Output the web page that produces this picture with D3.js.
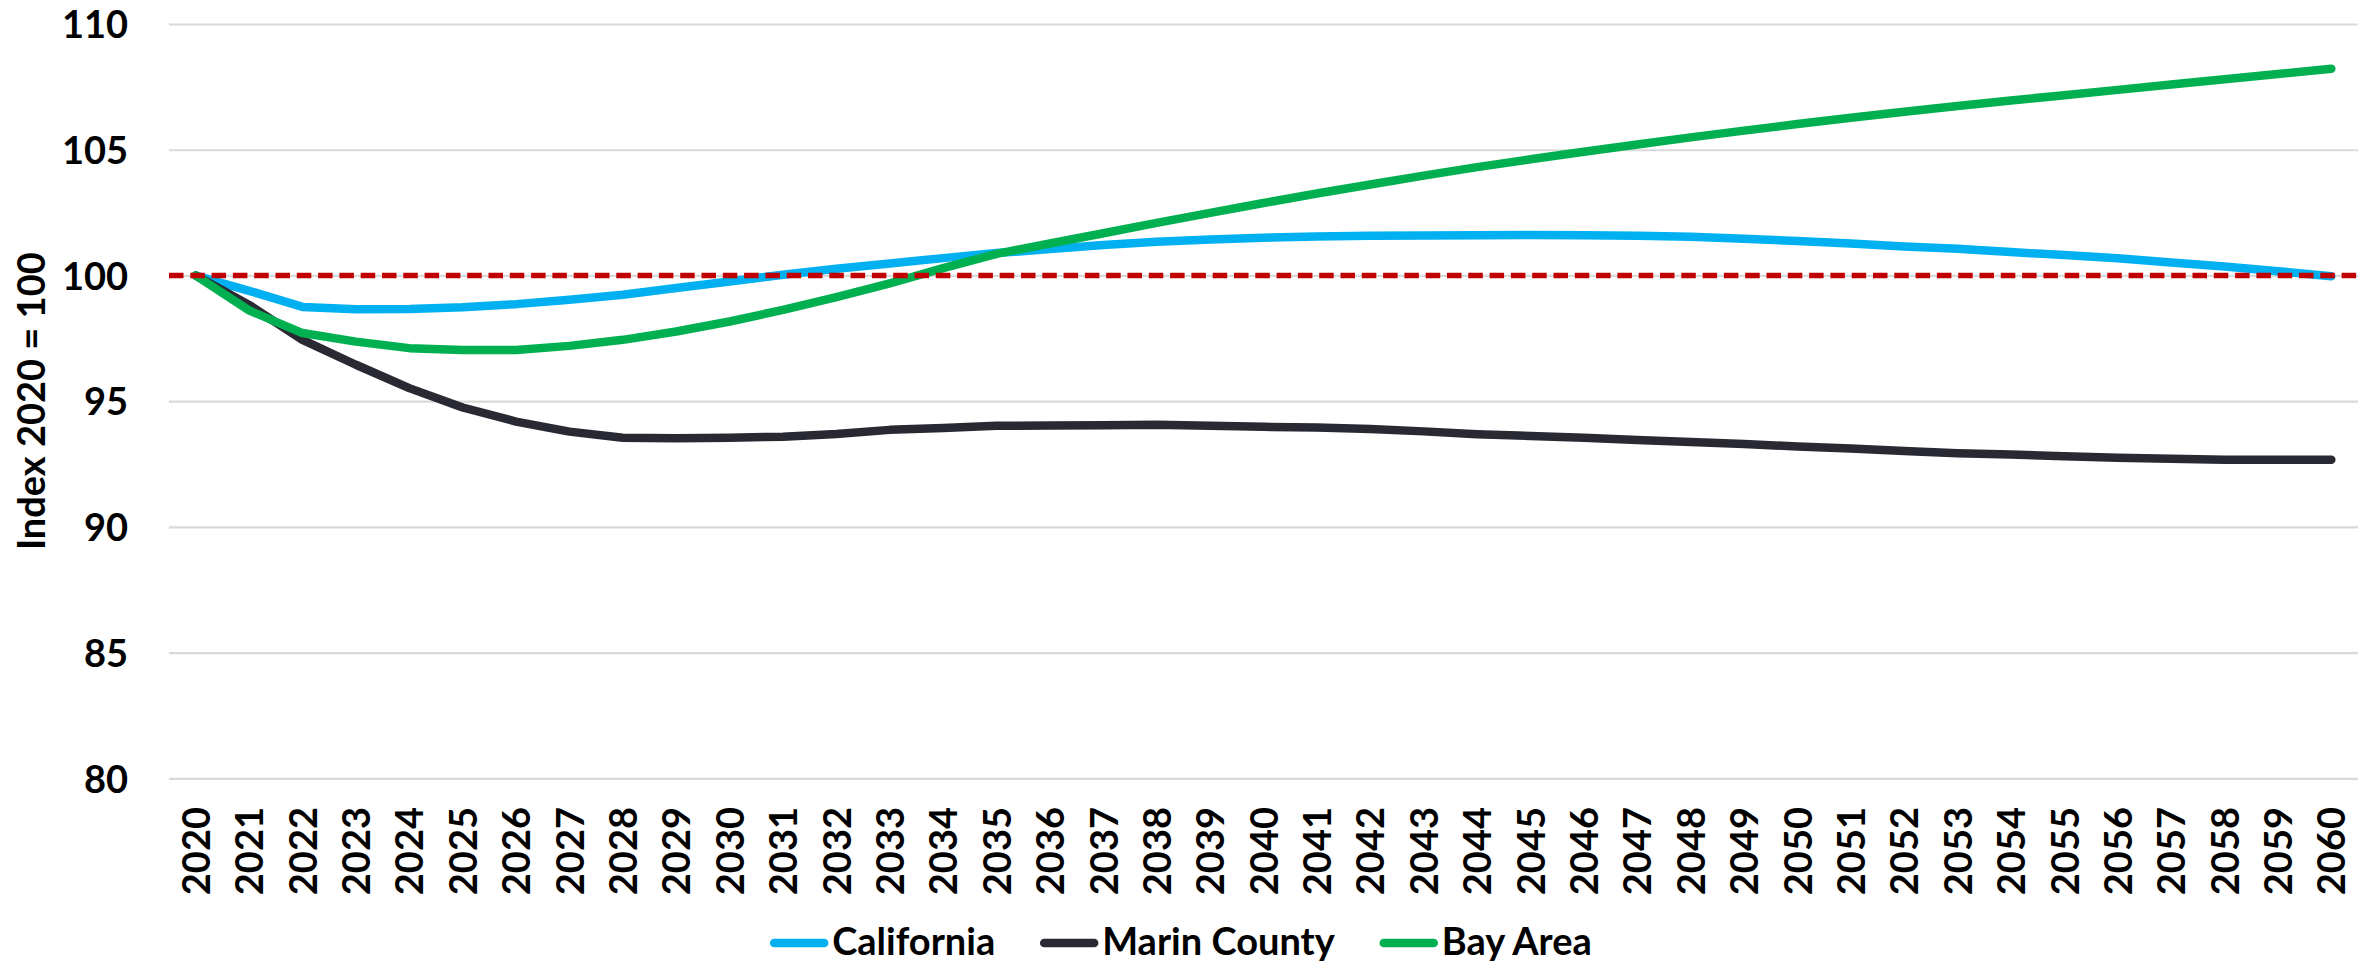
<!DOCTYPE html>
<html>
<head>
<meta charset="utf-8">
<script src="https://cdn.jsdelivr.net/npm/d3@7"></script>
<style>
  html, body { margin: 0; padding: 0; background: #ffffff; }
  svg { display: block; }
  text { font-family: Lato, "Open Sans", sans-serif; font-weight: 700; fill: #000; }
</style>
</head>
<body>
<svg id="chart" width="2374" height="965"></svg>
<script>
// ---------------- data ----------------
const years = [2020, 2021, 2022, 2023, 2024, 2025, 2026, 2027, 2028, 2029,
               2030, 2031, 2032, 2033, 2034, 2035, 2036, 2037, 2038, 2039,
               2040, 2041, 2042, 2043, 2044, 2045, 2046, 2047, 2048, 2049,
               2050, 2051, 2052, 2053, 2054, 2055, 2056, 2057, 2058, 2059, 2060];

const california = [100.00, 99.39, 98.75, 98.66, 98.67, 98.74, 98.86, 99.03, 99.23, 99.50,
                    99.76, 100.03, 100.27, 100.48, 100.69, 100.89, 101.05, 101.21, 101.34, 101.43,
                    101.50, 101.55, 101.58, 101.59, 101.60, 101.61, 101.60, 101.58, 101.54, 101.46,
                    101.37, 101.27, 101.15, 101.06, 100.93, 100.81, 100.68, 100.52, 100.36, 100.17, 99.97];

const marinCounty = [100.00, 98.83, 97.44, 96.45, 95.52, 94.75, 94.19, 93.79, 93.55, 93.53,
                     93.55, 93.59, 93.70, 93.86, 93.93, 94.02, 94.03, 94.04, 94.06, 94.02,
                     93.98, 93.95, 93.89, 93.80, 93.69, 93.62, 93.55, 93.46, 93.38, 93.30,
                     93.20, 93.12, 93.02, 92.93, 92.88, 92.81, 92.75, 92.71, 92.67, 92.67, 92.67];

const bayArea = [100.00, 98.61, 97.71, 97.37, 97.11, 97.04, 97.04, 97.20, 97.44, 97.77,
                 98.17, 98.63, 99.14, 99.69, 100.29, 100.86, 101.27, 101.68, 102.09, 102.49,
                 102.88, 103.26, 103.62, 103.97, 104.31, 104.62, 104.92, 105.21, 105.49, 105.76,
                 106.02, 106.27, 106.51, 106.74, 106.96, 107.17, 107.38, 107.59, 107.80, 108.01, 108.22];

const yTicks = [80, 85, 90, 95, 100, 105, 110];
const referenceLevel = 100;
const yTitle = "Index 2020 = 100";
const seriesNames = ["California", "Marin County", "Bay Area"];
const seriesValues = [california, marinCounty, bayArea];
const seriesColors = ["#00B0F0", "#292933", "#00B050"];

// ---------------- layout ----------------
const W = 2374, H = 965;
const plot = { left: 169, right: 2358, top: 24, bottom: 778.4 };

const svg = d3.select("#chart");

const x = d3.scalePoint()
  .domain(years)
  .range([plot.left, plot.right])
  .padding(0.5);

const y = d3.scaleLinear()
  .domain([80, 110])
  .range([plot.bottom, plot.top]);

// gridlines + y labels
const yAxis = d3.axisLeft(y)
  .tickValues(yTicks)
  .tickSize(-(plot.right - plot.left))
  .tickPadding(41)
  .tickFormat(d3.format("d"));

const gy = svg.append("g")
  .attr("transform", `translate(${plot.left},0)`)
  .call(yAxis);
gy.select(".domain").remove();
gy.selectAll(".tick line")
  .attr("stroke", "#D9D9D9")
  .attr("stroke-width", 2.2);
gy.selectAll(".tick text")
  .attr("font-size", 38)
  .attr("font-family", "Lato, 'Open Sans', sans-serif")
  .attr("font-weight", 700)
  .attr("fill", "#000")
  .attr("dy", "0.36em");

// x axis labels (rotated)
const xAxis = d3.axisBottom(x)
  .tickSize(0)
  .tickFormat(d => String(d));

const gx = svg.append("g")
  .attr("transform", `translate(0,${plot.bottom})`)
  .call(xAxis);
gx.select(".domain").remove();
gx.selectAll(".tick text")
  .attr("font-size", 38)
  .attr("font-family", "Lato, 'Open Sans', sans-serif")
  .attr("font-weight", 700)
  .attr("fill", "#000")
  .attr("transform", "rotate(-90)")
  .attr("text-anchor", "end")
  .attr("x", -28.6)
  .attr("y", 0)
  .attr("dy", "0.36em");

// y axis title
svg.append("text")
  .attr("transform", `translate(45,${(plot.top + plot.bottom) / 2}) rotate(-90)`)
  .attr("text-anchor", "middle")
  .attr("font-size", 38)
  .text(yTitle);

// series lines
const line = d3.line()
  .x((d, i) => x(years[i]))
  .y(d => y(d));

const gLines = svg.append("g");
seriesValues.forEach((vals, k) => {
  gLines.append("path")
    .datum(vals)
    .attr("d", line)
    .attr("fill", "none")
    .attr("stroke", seriesColors[k])
    .attr("stroke-width", 8.5)
    .attr("stroke-linecap", "round")
    .attr("stroke-linejoin", "round");
});

// reference dashed line at 100
svg.append("line")
  .attr("x1", plot.left)
  .attr("x2", plot.right)
  .attr("y1", y(referenceLevel))
  .attr("y2", y(referenceLevel))
  .attr("stroke", "#C00000")
  .attr("stroke-width", 5.5)
  .attr("stroke-dasharray", "14.5,6.8");

// legend
const legendY = 943;
const markerLen = 58, markerGap = 4, itemGap = 45;
const gLeg = svg.append("g");
const items = seriesNames.map((name, k) => {
  const g = gLeg.append("g");
  g.append("line")
    .attr("x1", 4).attr("x2", markerLen - 4)
    .attr("y1", legendY).attr("y2", legendY)
    .attr("stroke", seriesColors[k])
    .attr("stroke-width", 8.5)
    .attr("stroke-linecap", "round");
  const t = g.append("text")
    .attr("x", markerLen + markerGap)
    .attr("y", 955)
    .attr("font-size", 38)
    .text(name);
  return { g, w: markerLen + markerGap + t.node().getComputedTextLength() };
});
const totalW = d3.sum(items, d => d.w) + itemGap * (items.length - 1);
let cx = 1181 - totalW / 2;
items.forEach(it => {
  it.g.attr("transform", `translate(${cx},0)`);
  cx += it.w + itemGap;
});
</script>
</body>
</html>
